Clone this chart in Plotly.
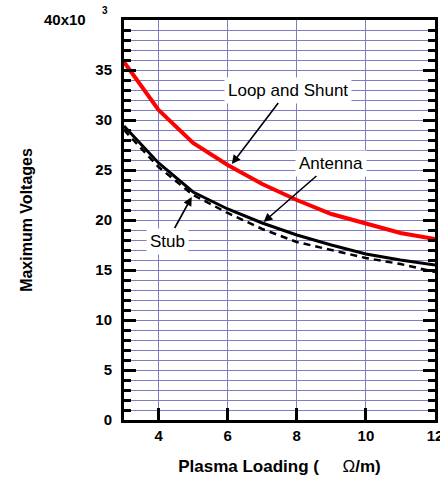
import plotly.graph_objects as go

# Data (voltages in thousands of volts)
loading = [3, 4, 5, 6, 7, 8, 9, 10, 11, 12]
loop_shunt = [35.8, 31.0, 27.7, 25.5, 23.6, 22.0, 20.6, 19.7, 18.7, 18.1]
antenna = [29.4, 25.7, 22.8, 21.1, 19.7, 18.5, 17.5, 16.6, 16.0, 15.5]
stub = [29.0, 25.3, 22.5, 20.7, 19.1, 17.8, 17.0, 16.2, 15.6, 14.8]

y_ticks = [0, 5, 10, 15, 20, 25, 30, 35]
x_ticks = [4, 6, 8, 10, 12]

# annotation labels: text, tip (x, y), text centre (x, y)
ann_text = ["Loop and Shunt", "Antenna", "Stub"]
ann_tip = [(6.12, 25.6), (7.04, 19.8), (4.96, 22.3)]
ann_pos = [(7.75, 33.0), (9.0, 25.7), (4.26, 17.9)]

GRID = "#7d7dc6"
FONT = "Liberation Sans, Arial, sans-serif"

fig = go.Figure()
fig.add_trace(go.Scatter(x=loading, y=loop_shunt, mode="lines",
                         line=dict(color="#ff0000", width=4), showlegend=False))
fig.add_trace(go.Scatter(x=loading, y=antenna, mode="lines",
                         line=dict(color="black", width=3), showlegend=False))
fig.add_trace(go.Scatter(x=loading, y=stub, mode="lines",
                         line=dict(color="black", width=2.5, dash="7px,5px"),
                         showlegend=False))

for t, (tx, ty), (px, py) in zip(ann_text, ann_tip, ann_pos):
    fig.add_annotation(x=tx, y=ty, ax=px, ay=py, xref="x", yref="y",
                       axref="x", ayref="y", text=t, showarrow=True,
                       arrowhead=2, arrowsize=1.1, arrowwidth=1.6,
                       arrowcolor="black", bgcolor="white", borderpad=3,
                       font=dict(family=FONT, size=17, color="black"))

fig.add_annotation(x=0, y=40, xref="paper", yref="y", xanchor="right",
                   yanchor="middle", xshift=-36, yshift=1, text="40x10",
                   showarrow=False,
                   font=dict(family=FONT, size=15, color="black", weight="bold"))
fig.add_annotation(x=0, y=40, xref="paper", yref="y", xanchor="right",
                   yanchor="middle", xshift=-14, yshift=10, text="3",
                   showarrow=False,
                   font=dict(family=FONT, size=10, color="black", weight="bold"))

fig.update_xaxes(range=[3, 12], tickvals=x_ticks, ticks="inside", ticklen=12,
                 tickwidth=2.5, tickcolor="black", showline=True, linewidth=3,
                 linecolor="black", mirror=True, showgrid=True, gridcolor=GRID,
                 gridwidth=1, zeroline=False, ticklabeloverflow="allow",
                 automargin=False,
                 tickfont=dict(family=FONT, size=15, color="black", weight="bold"),
                 title=dict(text="<b>Plasma Loading (</b>\u00a0\u00a0\u00a0\u00a0\u00a0Ω<b>/m)</b>",
                            font=dict(family=FONT, size=17, color="black"),
                            standoff=18))
fig.update_yaxes(range=[0, 40], tickvals=y_ticks, ticks="inside", ticklen=12,
                 tickwidth=2.5, tickcolor="black", showline=True, linewidth=3,
                 linecolor="black", mirror="ticks", showgrid=True, gridcolor=GRID,
                 gridwidth=1, zeroline=False, ticklabelstandoff=6,
                 automargin=False,
                 minor=dict(dtick=1, tick0=0, ticks="inside", ticklen=7,
                            tickwidth=2.5, tickcolor="black", showgrid=True,
                            gridcolor=GRID, gridwidth=1),
                 tickfont=dict(family=FONT, size=15, color="black", weight="bold"),
                 title=dict(text="Maximum Voltages",
                            font=dict(family=FONT, size=16, color="black", weight="bold"),
                            standoff=59))

fig.update_layout(width=440, height=479, margin=dict(l=124, r=5, t=20, b=59),
                  plot_bgcolor="white", paper_bgcolor="white")

fig.write_html("out.html")
